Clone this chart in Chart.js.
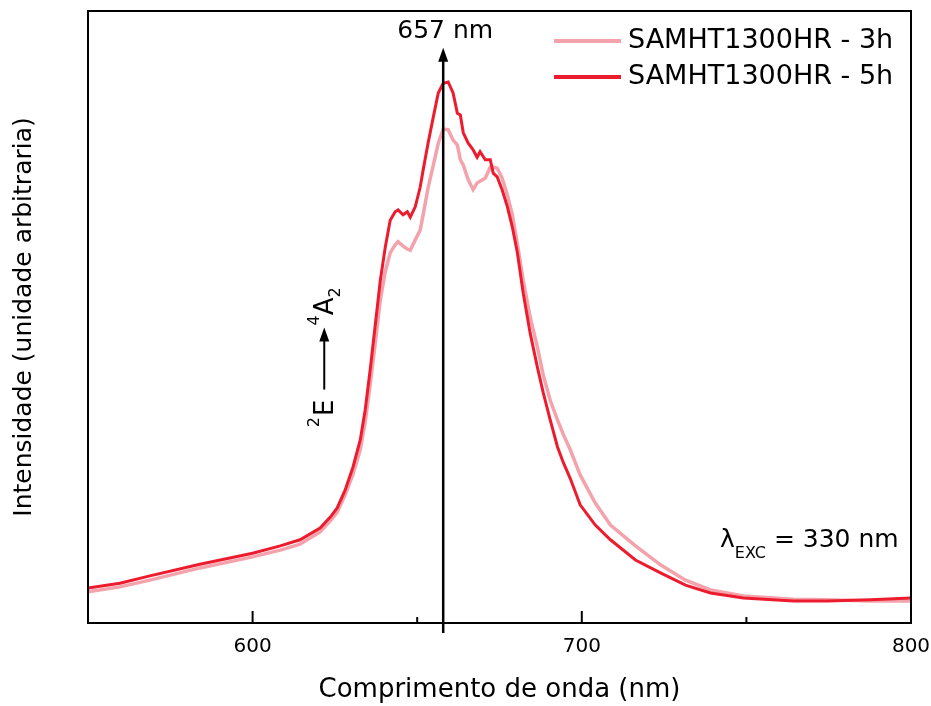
<!DOCTYPE html>
<html>
<head>
<meta charset="utf-8">
<script src="https://cdn.jsdelivr.net/npm/chart.js@4.4.0/dist/chart.umd.min.js"></script>
<style>
  body { margin: 0; background: #fff; }
</style>
</head>
<body>
<canvas id="grafico" width="931" height="706"></canvas>
<script>
// comprimento de onda (nm)
var wavelength = [550, 559.7, 568.8, 584, 600, 608.4, 614.4, 620.5, 623.6, 625.7,
  628.1, 630.5, 632.7, 634.2, 635.7, 637.2, 638.8, 640.3, 641.8, 643.3,
  644.2, 645.7, 647.0, 647.9, 649.4, 650.9, 651.8, 653.3, 654.9, 656.4,
  657.9, 659.4, 660.9, 662.2, 663.1, 664.0, 665.5, 667.0, 668.2, 669.1,
  670.7, 672.2, 673.1, 674.3, 675.8, 677.4, 678.9, 680.4, 682.2, 684.3,
  686.5, 688.3, 690.4, 692.6, 694.4, 696.5, 699.5, 704.1, 708.7, 716.3,
  723.9, 731.5, 739.1, 749.1, 764.3, 774.6, 787.7, 800];

// intensidade (u.a.)
var int3h = [5.1, 5.9, 7.0, 9.0, 10.8, 11.9, 12.9, 14.9, 16.7, 18.1,
  20.9, 24.3, 28.3, 32.8, 38.9, 45.4, 52.8, 57.4, 60.5, 61.8,
  62.3, 61.6, 61.1, 60.9, 62.6, 64.2, 66.7, 71.1, 74.8, 78.4,
  80.7, 80.6, 78.9, 78.1, 75.7, 74.8, 72.4, 70.8, 71.9, 72.2,
  72.7, 74.5, 74.5, 74.3, 72.7, 69.9, 66.7, 62.1, 56.0, 50.0,
  45.1, 40.5, 36.4, 33.2, 30.8, 28.3, 24.2, 19.6, 16.0, 12.6,
  9.5, 7.0, 5.4, 4.4, 3.9, 3.8, 3.6, 3.6];

var int5h = [5.7, 6.5, 7.7, 9.6, 11.4, 12.6, 13.6, 15.5, 17.3, 18.8,
  21.7, 25.5, 29.9, 34.8, 41.3, 48.4, 56.0, 61.4, 65.8, 67.2,
  67.5, 66.7, 67.2, 66.3, 68.0, 71.2, 74.0, 78.4, 82.7, 86.6,
  88.2, 88.4, 86.6, 83.3, 83.0, 80.1, 78.4, 77.3, 76.1, 77.0,
  75.7, 75.7, 73.5, 72.9, 70.8, 68.0, 64.7, 60.6, 53.9, 47.4,
  41.8, 37.6, 33.2, 28.8, 26.2, 23.6, 19.3, 16.0, 13.6, 10.3,
  8.2, 6.2, 4.9, 4.1, 3.6, 3.6, 3.8, 4.1];

var labels = ['SAMHT1300HR - 3h', 'SAMHT1300HR - 5h'];
var colors = ['#F4A3AC', '#EC1C2E'];

var pico = 657;      // texto da seta
var picoPos = 657.9; // onde a seta foi desenhada

function pontos(ys) {
  var out = [];
  for (var i in wavelength) {
    out.push({x: wavelength[i], y: ys[i]});
  }
  return out;
}

Chart.defaults.font.family = 'DejaVu Sans';
Chart.defaults.color = '#000';

var extras = {
  id: 'extras',
  afterDraw: function(chart) {
    var ctx = chart.ctx;
    var a = chart.chartArea;
    var x = chart.scales.x;
    var y = chart.scales.y;
    ctx.save();

    // moldura
    ctx.strokeStyle = '#000';
    ctx.lineWidth = 2;
    ctx.strokeRect(a.left, a.top, a.right - a.left, a.bottom - a.top);

    // ticks para dentro
    x.ticks.forEach(function(t) {
      var px = x.getPixelForValue(t.value);
      if (px <= a.left + 1 || px >= a.right - 1) return;
      var len = t.value % 100 === 0 ? 12 : 6;
      ctx.beginPath();
      ctx.moveTo(px, a.bottom);
      ctx.lineTo(px, a.bottom - len);
      ctx.stroke();
    });

    // seta do pico
    var px = x.getPixelForValue(picoPos);
    var tip = y.getPixelForValue(94);
    ctx.lineWidth = 2.5;
    ctx.beginPath();
    ctx.moveTo(px, a.bottom + 10);
    ctx.lineTo(px, tip + 10);
    ctx.stroke();
    ctx.fillStyle = '#000';
    ctx.beginPath();
    ctx.moveTo(px, tip);
    ctx.lineTo(px - 5, tip + 14);
    ctx.lineTo(px + 5, tip + 14);
    ctx.closePath();
    ctx.fill();

    ctx.font = '25px "DejaVu Sans"';
    ctx.textAlign = 'center';
    ctx.textBaseline = 'alphabetic';
    ctx.fillText(pico + ' nm', px + 2, y.getPixelForValue(95.6));

    // lambda EXC
    var lx = x.getPixelForValue(742);
    var ly = y.getPixelForValue(12.4);
    ctx.textAlign = 'left';
    ctx.font = '25px "DejaVu Sans"';
    ctx.fillText('\u03bb', lx, ly);
    lx += ctx.measureText('\u03bb').width;
    ctx.font = '16px "DejaVu Sans"';
    ctx.fillText('EXC', lx, ly + 11);
    lx += ctx.measureText('EXC').width;
    ctx.font = '25px "DejaVu Sans"';
    ctx.fillText(' = 330 nm', lx, ly);

    // transicao 2E -> 4A2 (vertical)
    ctx.save();
    ctx.translate(x.getPixelForValue(624.5), y.getPixelForValue(32));
    ctx.rotate(-Math.PI / 2);
    var u = 0;
    ctx.font = '16px "DejaVu Sans"';
    ctx.fillText('2', u, -14);
    u += ctx.measureText('2').width + 1;
    ctx.font = '26px "DejaVu Sans"';
    ctx.fillText('E', u, 0);
    u += ctx.measureText('E').width + 10;
    ctx.lineWidth = 2;
    ctx.beginPath();
    ctx.moveTo(u, -9);
    ctx.lineTo(u + 50, -9);
    ctx.stroke();
    ctx.beginPath();
    ctx.moveTo(u + 62, -9);
    ctx.lineTo(u + 48, -14);
    ctx.lineTo(u + 48, -4);
    ctx.closePath();
    ctx.fill();
    u += 64;
    ctx.font = '16px "DejaVu Sans"';
    ctx.fillText('4', u, -14);
    u += ctx.measureText('4').width;
    ctx.font = '26px "DejaVu Sans"';
    ctx.fillText('A', u, 0);
    u += ctx.measureText('A').width;
    ctx.font = '16px "DejaVu Sans"';
    ctx.fillText('2', u, 7);
    ctx.restore();

    // legenda
    ctx.font = '27px "DejaVu Sans"';
    ctx.textBaseline = 'middle';
    ctx.textAlign = 'left';
    chart.data.datasets.forEach(function(ds, i) {
      var ry = a.top + 30 + i * 36;
      ctx.strokeStyle = ds.borderColor;
      ctx.lineWidth = 4;
      ctx.beginPath();
      ctx.moveTo(a.right - 357, ry);
      ctx.lineTo(a.right - 290, ry);
      ctx.stroke();
      ctx.fillStyle = '#000';
      ctx.fillText(ds.label, a.right - 283, ry);
    });

    ctx.restore();
  }
};

var ctx = document.getElementById('grafico');

var grafico = new Chart(ctx, {
  type: 'line',
  data: {
    datasets: [
      {
        label: labels[0],
        data: pontos(int3h),
        borderColor: colors[0],
        borderWidth: 3.5,
        pointRadius: 0,
        tension: 0,
        order: 1
      },
      {
        label: labels[1],
        data: pontos(int5h),
        borderColor: colors[1],
        borderWidth: 3,
        pointRadius: 0,
        tension: 0,
        order: 0
      }
    ]
  },
  options: {
    responsive: false,
    animation: false,
    layout: { padding: { left: 0, right: 20, top: 11, bottom: 0 } },
    plugins: {
      legend: { display: false },
      tooltip: { enabled: false }
    },
    scales: {
      x: {
        type: 'linear',
        min: 550,
        max: 800,
        grid: { display: false, drawTicks: false },
        border: { display: false },
        ticks: {
          stepSize: 50,
          autoSkip: false,
          maxRotation: 0,
          padding: 12,
          font: { size: 20 },
          callback: function(v) { return v % 100 === 0 ? v : ''; }
        },
        title: {
          display: true,
          text: 'Comprimento de onda (nm)',
          font: { size: 26 },
          padding: { top: 0, bottom: 0 }
        },
        afterFit: function(scale) {
          scale.height = 83;
          scale.paddingLeft = 0;
          scale.paddingRight = 0;
        }
      },
      y: {
        min: 0,
        max: 100,
        grid: { display: false, drawTicks: false },
        border: { display: false },
        ticks: { display: false },
        title: {
          display: true,
          text: 'Intensidade (unidade arbitraria)',
          font: { size: 25 },
          padding: { top: 9, bottom: 0 }
        },
        afterFit: function(scale) { scale.width = 88; }
      }
    }
  },
  plugins: [extras]
});
</script>
</body>
</html>
